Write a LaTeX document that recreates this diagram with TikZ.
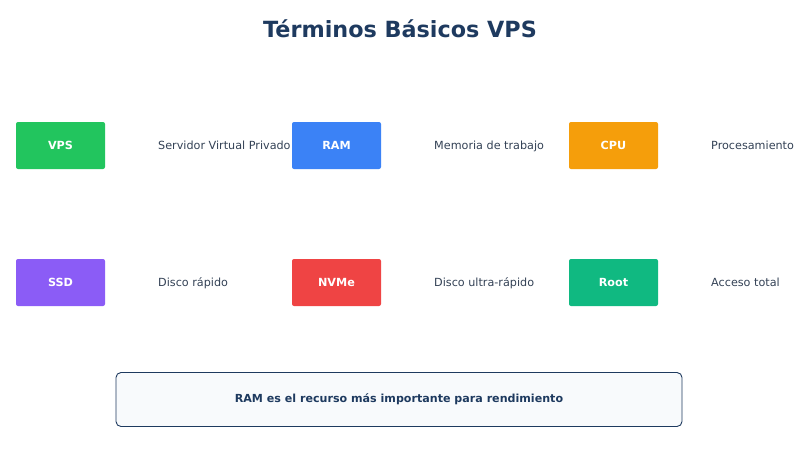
\documentclass[tikz,border=0pt]{standalone}
\usepackage{fontspec}
\setmainfont{DejaVu Sans}
\definecolor{navy}{HTML}{1E3A5F}
\definecolor{txt}{HTML}{334155}
\definecolor{cg}{HTML}{22C55E}
\definecolor{cb}{HTML}{3B82F6}
\definecolor{co}{HTML}{F59E0B}
\definecolor{cp}{HTML}{8B5CF6}
\definecolor{cr}{HTML}{EF4444}
\definecolor{ct}{HTML}{10B981}
\definecolor{note}{HTML}{F8FAFC}
\tikzset{
 term/.style={rounded corners=2pt, minimum width=89pt, minimum height=47pt, inner sep=0pt, text=white, font=\fontsize{11.2}{13}\selectfont\bfseries},
 desc/.style={anchor=base west, inner sep=0pt, text=txt, font=\fontsize{11.2}{13}\selectfont},
}
\begin{document}
\begin{tikzpicture}[x=1pt,y=-1pt]
\useasboundingbox (0,0) rectangle (800,450);
\node[text=navy, font=\fontsize{22.3}{26}\selectfont\bfseries] (title) at (400,29) {Términos Básicos VPS};
\node[term, fill=cg] (vps) at (60.5,145.5) {VPS};
\node[desc] (dvps) at (158,149.5) {Servidor Virtual Privado};
\node[term, fill=cb] (ram) at (336.5,145.5) {RAM};
\node[desc] (dram) at (434,149.5) {Memoria de trabajo};
\node[term, fill=co] (cpu) at (613.5,145.5) {CPU};
\node[desc] (dcpu) at (711,149.5) {Procesamiento};
\node[term, fill=cp] (ssd) at (60.5,282.5) {SSD};
\node[desc] (dssd) at (158,286.5) {Disco rápido};
\node[term, fill=cr] (nvme) at (336.5,282.5) {NVMe};
\node[desc] (dnvme) at (434,286.5) {Disco ultra-rápido};
\node[term, fill=ct] (root) at (613.5,282.5) {Root};
\node[desc] (droot) at (711,286.5) {Acceso total};
\node[draw=navy, line width=0.9pt, fill=note, rounded corners=5pt, minimum width=566pt, minimum height=54pt, text=navy, font=\fontsize{11.1}{13}\selectfont\bfseries] (tip) at (399,399.5) {RAM es el recurso más importante para rendimiento};
\end{tikzpicture}
\end{document}
